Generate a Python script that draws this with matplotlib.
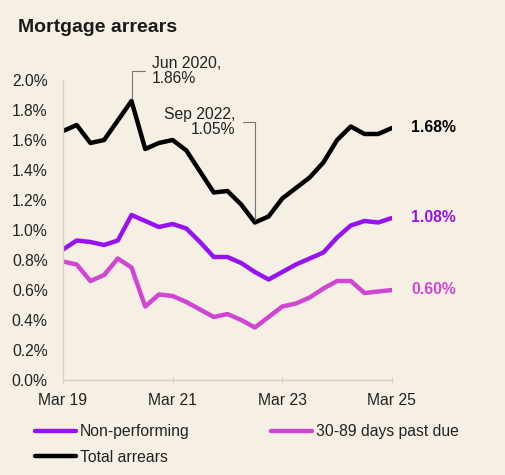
import matplotlib.pyplot as plt

plt.rcParams['font.family'] = ['Liberation Sans', 'DejaVu Sans']

BG = "#f6efe4"
PURPLE = "#9612f0"
MAGENTA = "#d145d3"
BLACK = "#000000"
FS = 11.3

# quarterly, Mar 19 .. Mar 25
quarters = list(range(25))
tick_pos = [0, 8, 16, 24]
tick_labels = ["Mar 19", "Mar 21", "Mar 23", "Mar 25"]

total_arrears = [1.66, 1.70, 1.58, 1.60, 1.73, 1.86, 1.54, 1.58, 1.60, 1.53,
                 1.39, 1.25, 1.26, 1.17, 1.05, 1.09, 1.21, 1.28, 1.35, 1.45,
                 1.60, 1.69, 1.64, 1.64, 1.68]
non_performing = [0.87, 0.93, 0.92, 0.90, 0.93, 1.10, 1.06, 1.02, 1.04, 1.01,
                  0.92, 0.82, 0.82, 0.78, 0.72, 0.67, 0.72, 0.77, 0.81, 0.85,
                  0.95, 1.03, 1.06, 1.05, 1.08]
past_due = [0.79, 0.77, 0.66, 0.70, 0.81, 0.75, 0.49, 0.57, 0.56, 0.52,
            0.47, 0.42, 0.44, 0.40, 0.35, 0.42, 0.49, 0.51, 0.55, 0.61,
            0.66, 0.66, 0.58, 0.59, 0.60]

fig = plt.figure(figsize=(5.06, 4.75), dpi=100, facecolor=BG)
ax = fig.add_axes([0.1245, 0.2, 0.65, 0.6316], facecolor=BG)

l_np, = ax.plot(quarters, non_performing, color=PURPLE, lw=3.2, label="Non-performing",
                solid_capstyle="round", solid_joinstyle="round")
l_pd, = ax.plot(quarters, past_due, color=MAGENTA, lw=3.2, label="30-89 days past due",
                solid_capstyle="round", solid_joinstyle="round")
l_tot, = ax.plot(quarters, total_arrears, color=BLACK, lw=3.2, label="Total arrears",
                 solid_capstyle="round", solid_joinstyle="round")

ax.set_xlim(0, 24)
ax.set_ylim(0, 2.0)
ax.set_yticks([i / 5 for i in range(11)])
ax.set_yticklabels([f"{i / 5:.1f}%" for i in range(11)])
ax.set_xticks(tick_pos)
ax.set_xticklabels(tick_labels)
ax.tick_params(axis="y", length=0, pad=11, labelsize=FS, colors="#222222")
ax.tick_params(axis="x", length=4, direction="inout", pad=7.5, labelsize=FS,
               colors="#d6d0c6", labelcolor="#222222")
for s in ["top", "right"]:
    ax.spines[s].set_visible(False)
for s in ["left", "bottom"]:
    ax.spines[s].set_color("#d6d0c6")
    ax.spines[s].set_linewidth(1.0)

# end labels
for series, col in [(total_arrears, BLACK), (non_performing, PURPLE), (past_due, MAGENTA)]:
    ax.annotate(f"{series[-1]:.2f}%", xy=(24, series[-1]), xytext=(14, 0),
                textcoords="offset points", ha="left", va="center",
                fontsize=FS, fontweight="bold", color=col, annotation_clip=False)

# call-outs
ax.annotate("Jun 2020,\n1.86%", xy=(5, total_arrears[5]), xytext=(6.5, 2.06),
            ha="left", va="center", fontsize=FS, color="#222222",
            linespacing=1.05, annotation_clip=False,
            arrowprops=dict(arrowstyle="-", color="#777777", lw=0.8,
                            relpos=(0, 0.5), shrinkA=3, shrinkB=2,
                            connectionstyle="angle,angleA=0,angleB=90,rad=0"))
ax.annotate("Sep 2022,\n1.05%", xy=(14, total_arrears[14]), xytext=(12.6, 1.72),
            ha="right", va="center", fontsize=FS, color="#222222",
            linespacing=1.05, annotation_clip=False,
            arrowprops=dict(arrowstyle="-", color="#777777", lw=0.8,
                            relpos=(1, 0.5), shrinkA=3, shrinkB=2,
                            connectionstyle="angle,angleA=0,angleB=90,rad=0"))

fig.text(0.036, 0.943, "Mortgage arrears", fontsize=14, fontweight="bold",
         color="#1a1a1a", ha="left", va="center")

# column-major fill: col 1 = Non-performing, Total arrears; col 2 = 30-89
leg = fig.legend([l_np, l_tot, l_pd],
                 ["Non-performing", "Total arrears", "30-89 days past due"],
                 loc="upper left", bbox_to_anchor=(0.069, 0.107), ncol=2,
                 frameon=False, fontsize=FS, handlelength=2.6,
                 handletextpad=0.25, columnspacing=5.2, labelspacing=0.68,
                 borderaxespad=0, borderpad=0)
for t in leg.get_texts():
    t.set_color("#222222")

fig.savefig("out.png", dpi=100, facecolor=BG)
